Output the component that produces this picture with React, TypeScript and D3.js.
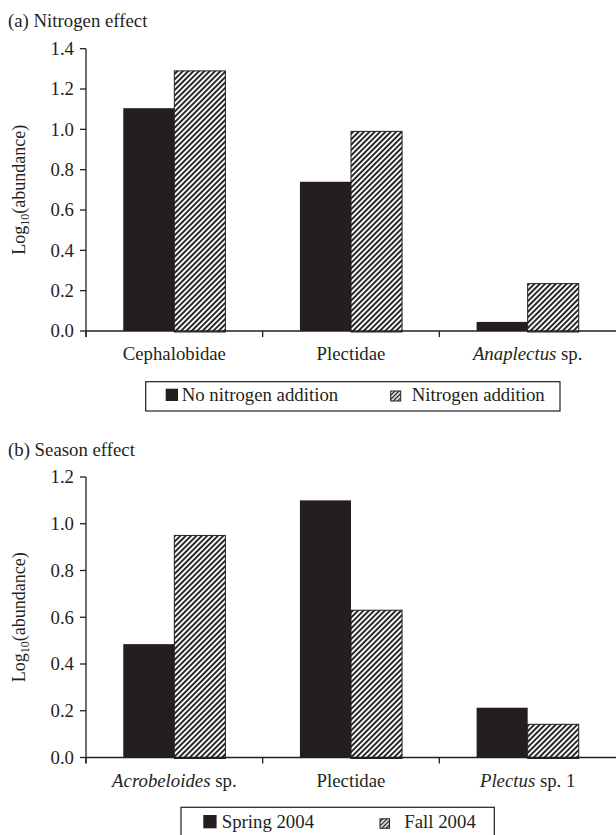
import React from "react";
import * as d3 from "d3";

// ---------- Data ----------
const categoriesA = ["Cephalobidae", "Plectidae", "Anaplectus sp."];
const seriesA = ["No nitrogen addition", "Nitrogen addition"];
const noNitrogenValues = [1.105, 0.74, 0.045];
const nitrogenValues = [1.29, 0.99, 0.235];
const yTicksA = [0, 0.2, 0.4, 0.6, 0.8, 1.0, 1.2, 1.4];

const categoriesB = ["Acrobeloides sp.", "Plectidae", "Plectus sp. 1"];
const seriesB = ["Spring 2004", "Fall 2004"];
const springValues = [0.485, 1.1, 0.213];
const fallValues = [0.95, 0.63, 0.142];
const yTicksB = [0, 0.2, 0.4, 0.6, 0.8, 1.0, 1.2];

const italicTerms = ["Anaplectus", "Acrobeloides", "Plectus"];

const FONT = "'Liberation Serif', 'Times New Roman', serif";
const INK = "#231f20";
const FS = 18.8;

function CategoryLabel({ text, x, y }: { text: string; x: number; y: number }) {
  const term = italicTerms.find((t) => text.startsWith(t + " "));
  return (
    <text x={x} y={y} textAnchor="middle" fontSize={FS} fontFamily={FONT} fill={INK}>
      {term ? (
        <>
          <tspan fontStyle="italic">{term}</tspan>
          <tspan>{text.slice(term.length)}</tspan>
        </>
      ) : (
        text
      )}
    </text>
  );
}

type PanelProps = {
  title: string;
  titleY: number;
  categories: string[];
  values: number[][];
  ticks: number[];
  yMax: number;
  yBottom: number;
  yTop: number;
};

function Panel({ title, titleY, categories, values, ticks, yMax, yBottom, yTop }: PanelProps) {
  const xLeft = 86;
  const xRight = 616;
  const x0 = d3.scaleBand<string>().domain(categories).range([xLeft, xRight]).paddingInner(0).paddingOuter(0);
  const x1 = d3
    .scaleBand<number>()
    .domain([0, 1])
    .range([0, x0.bandwidth()])
    .paddingInner(0)
    .paddingOuter(0.73);
  const y = d3.scaleLinear().domain([0, yMax]).range([yBottom, yTop]);
  const fmt = d3.format(".1f");
  const boundaries = [xLeft, ...categories.slice(1).map((c) => x0(c) as number)];
  const yMid = (yBottom + yTop) / 2;

  return (
    <g>
      <text x={8} y={titleY} fontSize={FS} fontFamily={FONT} fill={INK}>
        {title}
      </text>
      {/* y-axis label */}
      <text
        transform={`translate(25,${yMid}) rotate(-90)`}
        textAnchor="middle"
        fontSize={18}
        fontFamily={FONT}
        fill={INK}
      >
        Log
        <tspan fontSize={12} dy={4}>
          10
        </tspan>
        <tspan dy={-4}>(abundance)</tspan>
      </text>
      {/* bars */}
      {categories.map((c, i) =>
        values.map((series, s) => {
          const bx = (x0(c) as number) + (x1(s) as number);
          const w = x1.bandwidth();
          const v = series[i];
          return s === 0 ? (
            <rect key={`${c}-${s}`} x={bx} y={y(v)} width={w} height={y(0) - y(v)} fill={INK} />
          ) : (
            <rect
              key={`${c}-${s}`}
              x={bx}
              y={y(v)}
              width={w}
              height={y(0) - y(v) + 1}
              fill="url(#hatch)"
              stroke={INK}
              strokeWidth={1}
            />
          );
        })
      )}
      {/* y axis */}
      <line x1={xLeft} x2={xLeft} y1={y(yMax)} y2={y(0) + 6} stroke={INK} strokeWidth={1.3} />
      {ticks.map((t) => (
        <g key={t}>
          <line x1={xLeft - 6} x2={xLeft} y1={y(t)} y2={y(t)} stroke={INK} strokeWidth={1.3} />
          <text
            x={xLeft - 12}
            y={y(t) + 6.3}
            textAnchor="end"
            fontSize={FS}
            fontFamily={FONT}
            fill={INK}
          >
            {fmt(t)}
          </text>
        </g>
      ))}
      {/* x axis */}
      <line x1={xLeft} x2={xRight} y1={y(0)} y2={y(0)} stroke={INK} strokeWidth={1.3} />
      {boundaries.map((b, i) => (
        <line key={i} x1={b} x2={b} y1={y(0)} y2={y(0) + 6} stroke={INK} strokeWidth={1.3} />
      ))}
      {categories.map((c) => (
        <CategoryLabel key={c} text={c} x={(x0(c) as number) + x0.bandwidth() / 2} y={y(0) + 29} />
      ))}
    </g>
  );
}

type LegendProps = {
  labels: string[];
  box: [number, number, number, number];
  baseline: number;
  solidX: number;
  solidSize: number;
  text1X: number;
  hatchX: number;
  hatchSize: number;
  text2X: number;
};

function Legend({ labels, box, baseline, solidX, solidSize, text1X, hatchX, hatchSize, text2X }: LegendProps) {
  const [bx, by, bw, bh] = box;
  return (
    <g>
      <rect x={bx} y={by} width={bw} height={bh} fill="white" stroke={INK} strokeWidth={1.2} />
      <rect x={solidX} y={baseline - solidSize} width={solidSize} height={solidSize} fill={INK} />
      <text x={text1X} y={baseline} fontSize={FS} fontFamily={FONT} fill={INK}>
        {labels[0]}
      </text>
      <rect
        x={hatchX}
        y={baseline - hatchSize}
        width={hatchSize}
        height={hatchSize}
        fill="url(#hatchSmall)"
        stroke={INK}
        strokeWidth={1}
      />
      <text x={text2X} y={baseline} fontSize={FS} fontFamily={FONT} fill={INK}>
        {labels[1]}
      </text>
    </g>
  );
}

export default function App() {
  return (
    <svg
      width={616}
      height={835}
      style={{ position: "absolute", left: 0, top: 0, display: "block", background: "white" }}
    >
      <defs>
        <pattern id="hatch" patternUnits="userSpaceOnUse" width={3.8} height={3.8} patternTransform="rotate(45)">
          <rect width={3.8} height={3.8} fill="white" />
          <line x1={1} y1={0} x2={1} y2={3.8} stroke={INK} strokeWidth={1.9} />
        </pattern>
        <pattern id="hatchSmall" patternUnits="userSpaceOnUse" width={3} height={3} patternTransform="rotate(45)">
          <rect width={3} height={3} fill="white" />
          <line x1={0.7} y1={0} x2={0.7} y2={3} stroke={INK} strokeWidth={1.4} />
        </pattern>
      </defs>
      <rect width={616} height={835} fill="white" />
      <Panel
        title="(a) Nitrogen effect"
        titleY={27}
        categories={categoriesA}
        values={[noNitrogenValues, nitrogenValues]}
        ticks={yTicksA}
        yMax={1.4}
        yBottom={331}
        yTop={48.7}
      />
      <Legend
        labels={seriesA}
        box={[145.7, 381.7, 414.3, 29.3]}
        baseline={401}
        solidX={165.7}
        solidSize={12.3}
        text1X={181.7}
        hatchX={390.7}
        hatchSize={10}
        text2X={411.7}
      />
      <Panel
        title="(b) Season effect"
        titleY={456}
        categories={categoriesB}
        values={[springValues, fallValues]}
        ticks={yTicksB}
        yMax={1.2}
        yBottom={757.5}
        yTop={477}
      />
      <Legend
        labels={seriesB}
        box={[181, 807.3, 313.3, 34]}
        baseline={828.3}
        solidX={203.3}
        solidSize={13.3}
        text1X={221.7}
        hatchX={380}
        hatchSize={9.5}
        text2X={404.3}
      />
    </svg>
  );
}
